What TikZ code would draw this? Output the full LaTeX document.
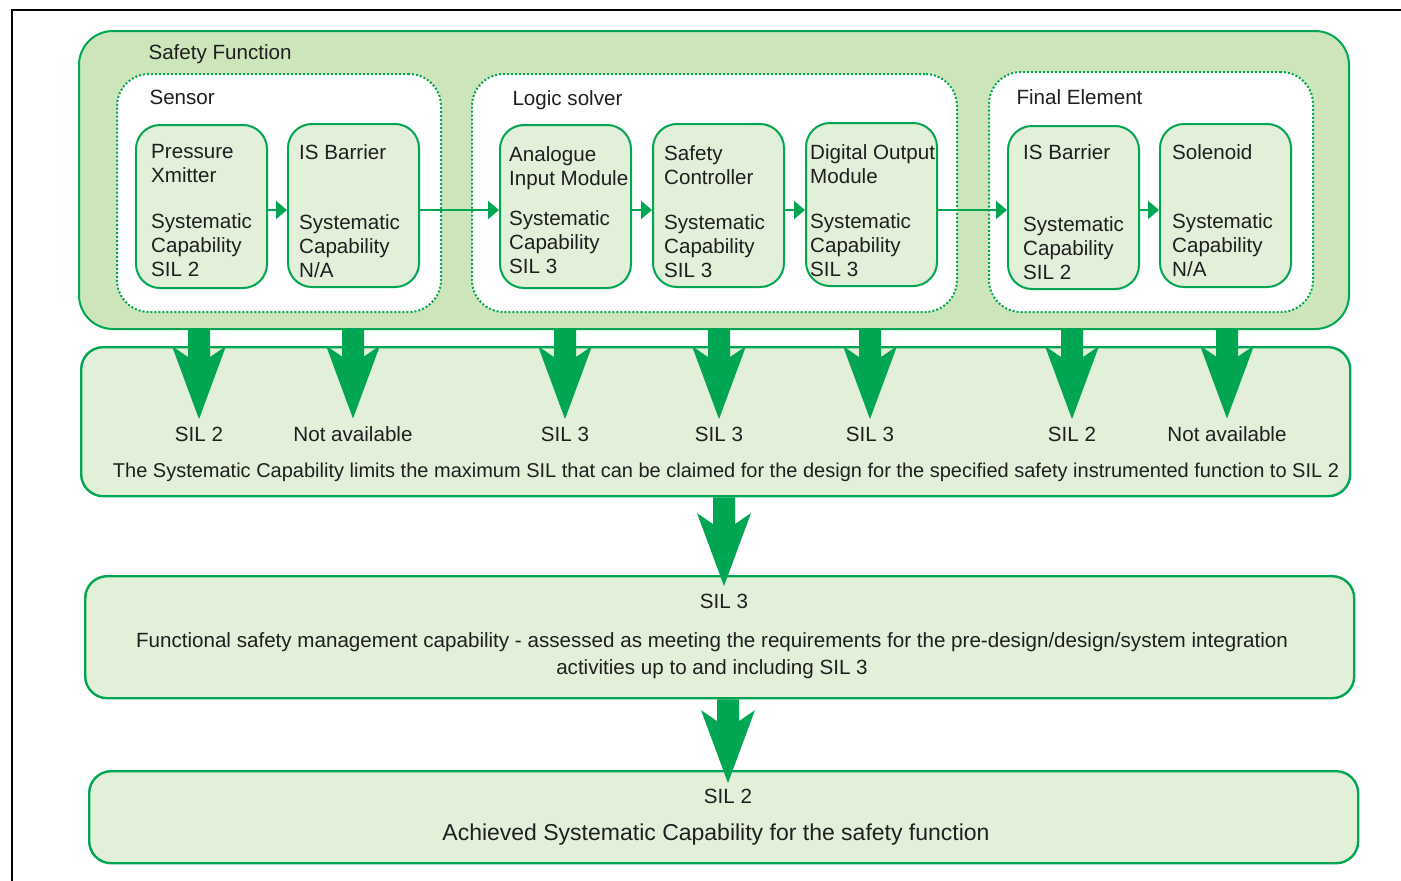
\documentclass[tikz,border=0pt]{standalone}
\usepackage{fontspec}
\setmainfont{Liberation Sans}
\usetikzlibrary{arrows.meta, positioning, calc}

\definecolor{sisgreen}{HTML}{00A651}
\definecolor{sfgreen}{HTML}{CCE5BA}
\definecolor{boxgreen}{HTML}{E2EFD9}

% wide green arrow from #1 down to its tip #2
\newcommand{\fatarrow}[2]{%
  \fill[sisgreen] let \p1=#1, \p2=#2 in
    (\x1-11pt,\y1) -- (\x1-11pt,\y2+62pt) -- (\x1-27pt,\y2+73pt) -- (\x1,\y2)
    -- (\x1+27pt,\y2+73pt) -- (\x1+11pt,\y2+62pt) -- (\x1+11pt,\y1) -- cycle;}

\begin{document}
\begin{tikzpicture}[x=1pt, y=-1pt,
    every node/.style={font=\fontsize{20.6}{24}\selectfont, text=black!88},
    sfbox/.style={draw=sisgreen, fill=sfgreen, line width=2pt, rounded corners=34pt,
      anchor=north west, inner sep=0pt},
    group/.style={draw=sisgreen, fill=white, line width=2pt, dotted, rounded corners=32pt,
      anchor=north west, inner sep=0pt},
    unit/.style={draw=sisgreen, fill=boxgreen, line width=2pt, rounded corners=24pt,
      anchor=north west, inner sep=0pt, minimum width=131pt, minimum height=163pt},
    utext/.style={anchor=north west, align=left, inner sep=0pt},
    result/.style={draw=sisgreen, fill=boxgreen, line width=2.4pt, rounded corners=22pt,
      anchor=north west, inner sep=0pt},
    flow/.style={draw=sisgreen, line width=2pt, -{Triangle[length=11pt,width=18pt]}}]

    \useasboundingbox (0,0) rectangle (1401,881);

    % Frame
    \draw[line width=2pt] (12,881) -- (12,10) -- (1401,10);

    % Safety function
    \node[sfbox, minimum width=1270pt, minimum height=298pt] (sf) at (78,30) {};
    \node[anchor=base west] (sftitle) at (145,59) {Safety Function};

    % Sensor
    \node[group, minimum width=324pt, minimum height=238pt] (sensor) at (116,73) {};
    \node[anchor=base west] (sensortitle) at (146,104) {Sensor};
    \node[unit] (ptx) at (135,124) {};
    \node[utext] (ptxtext) at (151,144) {Pressure\\Xmitter\\[22pt]Systematic\\Capability\\SIL 2};
    \node[unit] (isb1) at (287,123) {};
    \node[utext] (isb1text) at (299,144) {IS Barrier\\[46pt]Systematic\\Capability\\N/A};

    % Logic solver
    \node[group, minimum width=485pt, minimum height=238pt] (logic) at (471,73) {};
    \node[anchor=base west] (logictitle) at (509,105) {Logic solver};
    \node[unit] (aim) at (499,124) {};
    \node[utext] (aimtext) at (509,146) {Analogue\\Input Module\\[16pt]Systematic\\Capability\\SIL 3};
    \node[unit] (sctl) at (652,123) {};
    \node[utext] (sctltext) at (664,145) {Safety\\Controller\\[21pt]Systematic\\Capability\\SIL 3};
    \node[unit] (dom) at (805,122) {};
    \node[utext] (domtext) at (810,144) {Digital Output\\Module\\[21pt]Systematic\\Capability\\SIL 3};

    % Final element
    \node[group, minimum width=324pt, minimum height=240pt] (final) at (988,71) {};
    \node[anchor=base west] (finaltitle) at (1013,104) {Final Element};
    \node[unit] (isb2) at (1007,125) {};
    \node[utext] (isb2text) at (1023,144) {IS Barrier\\[48pt]Systematic\\Capability\\SIL 2};
    \node[unit] (sol) at (1159,123) {};
    \node[utext] (soltext) at (1172,144) {Solenoid\\[45pt]Systematic\\Capability\\N/A};

    % Signal path
    \coordinate (flowy) at (0,210);
    \draw[flow] (ptx.east |- flowy) -- (isb1.west |- flowy);
    \draw[flow] (isb1.east |- flowy) -- (aim.west |- flowy);
    \draw[flow] (aim.east |- flowy) -- (sctl.west |- flowy);
    \draw[flow] (sctl.east |- flowy) -- (dom.west |- flowy);
    \draw[flow] (dom.east |- flowy) -- (isb2.west |- flowy);
    \draw[flow] (isb2.east |- flowy) -- (sol.west |- flowy);

    % Systematic capability of each element
    \node[result, minimum width=1269pt, minimum height=149pt] (sc) at (80,346) {};
    \node[anchor=base] (r1) at (199,441) {SIL 2};
    \node[anchor=base] (r2) at (353,441) {Not available};
    \node[anchor=base] (r3) at (565,441) {SIL 3};
    \node[anchor=base] (r4) at (719,441) {SIL 3};
    \node[anchor=base] (r5) at (870,441) {SIL 3};
    \node[anchor=base] (r6) at (1072,441) {SIL 2};
    \node[anchor=base] (r7) at (1227,441) {Not available};
    \node[anchor=base, font=\fontsize{20}{24}\selectfont] (sclimit) at (726,477) {The Systematic Capability limits the maximum SIL that can be claimed for the design for the specified safety instrumented function to SIL 2};
    \foreach \r in {r1,r2,r3,r4,r5,r6,r7}
      \fatarrow{(sf.south -| \r)}{([yshift=4pt]\r.north)};

    % Functional safety management
    \node[result, minimum width=1269pt, minimum height=122pt] (fsm) at (84,575) {};
    \node[anchor=base] (fsmsil) at (724,608) {SIL 3};
    \node[anchor=north, align=center, font=\fontsize{20.6}{27}\selectfont] (fsmtext) at (712,629)
      {Functional safety management capability - assessed as meeting the requirements for the pre-design/design/system integration\\activities up to and including SIL 3};
    \fatarrow{(sc.south -| fsmsil)}{([yshift=4pt]fsmsil.north)};

    % Achieved
    \node[result, minimum width=1269pt, minimum height=92pt] (ach) at (88,770) {};
    \node[anchor=base] (achsil) at (728,803) {SIL 2};
    \node[anchor=base, font=\fontsize{23}{27}\selectfont] (achtext) at (716,840) {Achieved Systematic Capability for the safety function};
    \fatarrow{(fsm.south -| achsil)}{([yshift=2pt]achsil.north)};

\end{tikzpicture}
\end{document}
